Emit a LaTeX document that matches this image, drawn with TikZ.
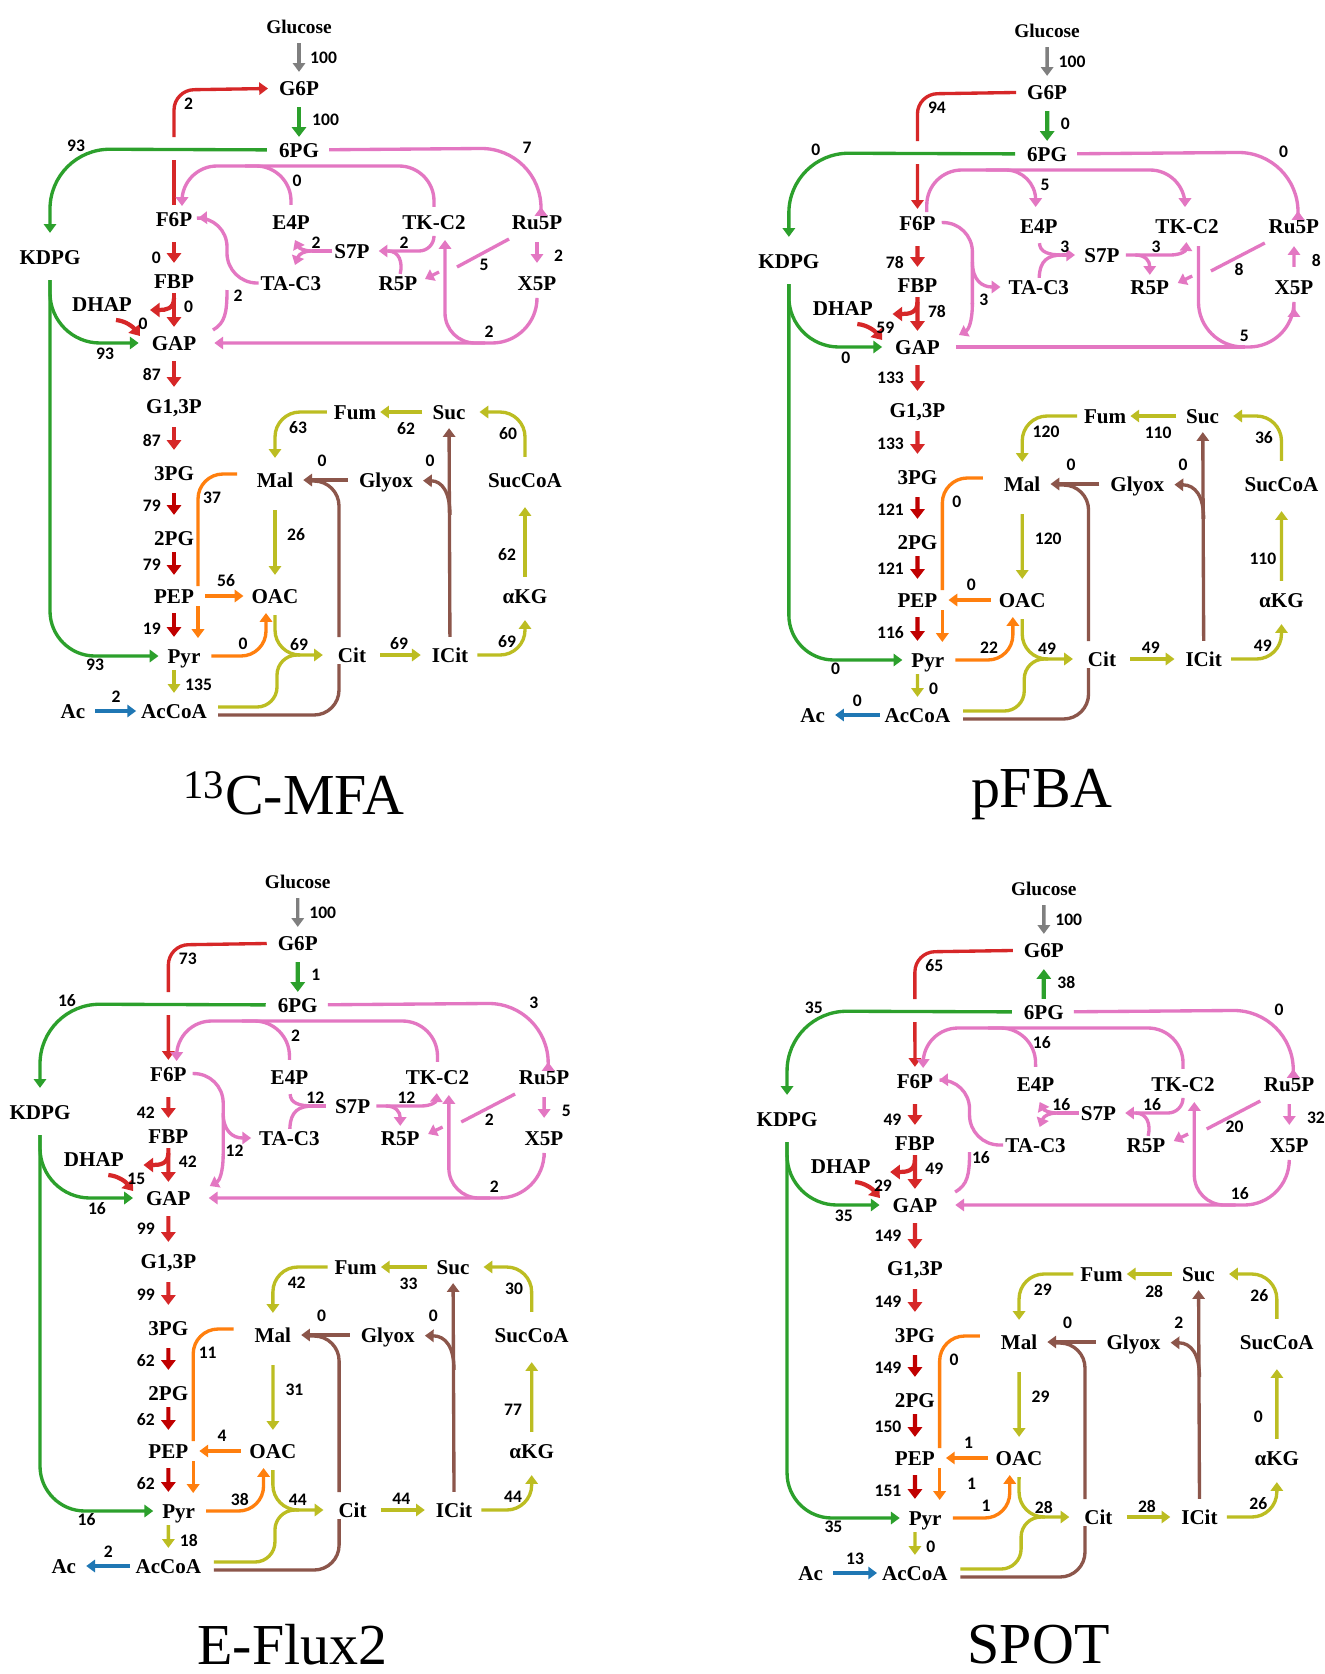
\documentclass[tikz,border=0pt]{standalone}
\usepackage{fontspec}
\setmainfont{Liberation Serif}
\newfontfamily\numfont{Carlito}
\usetikzlibrary{arrows.meta,calc}

\definecolor{fgray}{HTML}{7F7F7F}
\definecolor{fgreen}{HTML}{2CA02C}
\definecolor{fred}{HTML}{D62728}
\definecolor{fdred}{HTML}{C00000}
\definecolor{fpink}{HTML}{E377C2}
\definecolor{folive}{HTML}{BCBD22}
\definecolor{fbrown}{HTML}{8C564B}
\definecolor{forange}{HTML}{FF7F0E}
\definecolor{fblue}{HTML}{1F77B4}

\tikzset{
  met/.style={font=\bfseries\fontsize{12}{14}\selectfont,inner sep=1pt,text height=8pt,text depth=0pt},
  num/.style={font=\numfont\bfseries\fontsize{10}{12}\selectfont,inner sep=0.5pt},
  ttl/.style={font=\fontsize{33}{38}\selectfont,inner sep=0pt},
  ln/.style={line width=1.9pt},
  fw/.style={ln,-{Triangle[width=7pt,length=5pt]}},
  bw/.style={ln,{Triangle[width=7pt,length=5pt]}-},
  fat/.style={line width=2.4pt,-{Triangle[width=8pt,length=5.5pt]}},
  fatbw/.style={line width=2.4pt,{Triangle[width=8pt,length=5.5pt]}-},
}

% shared part of every map: #1 G6P/6PG, #2 PEP/OAC, #3 Ac/AcCoA
\newcommand{\mapcore}[3]{%
  % metabolites
  \node[met,font=\bfseries\fontsize{11}{13}\selectfont] (Glc) at (299,26) {Glucose};
  \node[met] (G6P) at (299,88) {G6P};
  \node[met] (PG6) at (299,150) {6PG};
  \node[met] (F6P) at (174,219) {F6P};
  \node[met] (E4P) at (291,222) {E4P};
  \node[met] (TK) at (434,222) {TK-C2};
  \node[met] (Ru5P) at (537,222) {Ru5P};
  \node[met] (KDPG) at (50,257) {KDPG};
  \node[met] (S7P) at (352,251) {S7P};
  \node[met] (TA) at (291,283) {TA-C3};
  \node[met] (R5P) at (398,283) {R5P};
  \node[met] (X5P) at (537,283) {X5P};
  \node[met] (FBP) at (174,281) {FBP};
  \node[met] (DHAP) at (102,304) {DHAP};
  \node[met] (GAP) at (174,343) {GAP};
  \node[met] (G13P) at (174,406) {G1,3P};
  \node[met] (PG3) at (174,473) {3PG};
  \node[met] (PG2) at (174,538) {2PG};
  \node[met] (PEP) at (174,596) {PEP};
  \node[met] (Pyr) at (184,656) {Pyr};
  \node[met] (AcCoA) at (174,711) {AcCoA};
  \node[met] (Ac) at (73,711) {Ac};
  \node[met] (Mal) at (275,480) {Mal};
  \node[met] (OAC) at (275,596) {OAC};
  \node[met] (Fum) at (355,412) {Fum};
  \node[met] (Suc) at (449,412) {Suc};
  \node[met] (Glyox) at (386,480) {Glyox};
  \node[met] (SucCoA) at (525,480) {SucCoA};
  \node[met] (aKG) at (525,596) {αKG};
  \node[met] (Cit) at (352,655) {Cit};
  \node[met] (ICit) at (450,655) {ICit};
  % uptake, ED
  \draw[fw,fgray,shorten <=0.16cm,shorten >=0.14cm] (Glc) -- (G6P);
  \draw[#1,fgreen,shorten <=0.2cm,shorten >=0.08cm] (G6P) -- (PG6);
  \draw[fw,fgreen,rounded corners=1.2cm,shorten <=0.2cm,shorten >=0.3cm] (PG6) -- (50,149) -- (KDPG);
  \draw[fw,fgreen,rounded corners=1cm,shorten <=0.28cm,shorten >=0.22cm] (KDPG) -- (50,343) -- (GAP);
  \draw[fw,fgreen,rounded corners=0.9cm,shorten <=0.28cm,shorten >=0.14cm] (KDPG) -- (50,656) -- (Pyr);
  % glycolysis
  \draw[fat,fred,shorten <=0.28cm,shorten >=0.18cm] (F6P) -- (FBP);
  \draw[fat,fred,shorten <=0.06cm,shorten >=0.14cm] (FBP) -- (GAP);
  \draw[fat,fred] (174,298) .. controls (174,309) and (166,310) .. (150,310);
  \draw[fat,fred] (116,320) .. controls (126,321) and (133,327) .. (140,336);
  \draw[fat,fred,shorten <=0.18cm,shorten >=0.2cm] (GAP) -- (G13P);
  \draw[fat,fred,shorten <=0.24cm,shorten >=0.28cm] (G13P) -- (PG3);
  \draw[fat,fdred,shorten <=0.22cm,shorten >=0.28cm] (PG3) -- (PG2);
  \draw[fat,fdred,shorten <=0.1cm,shorten >=0.24cm] (PG2) -- (PEP);
  \draw[fat,fdred,shorten <=0.16cm,shorten >=0.2cm] (PEP) -- (PEP |- Pyr.north);
  % anaplerosis
  \draw[ln,forange,rounded corners=0.5cm] (237,474) -- (198,474) -- (198,586);
  \draw[fw,forange] (198,606) -- (198,638);
  \draw[#2,forange,shorten <=0.18cm,shorten >=0.12cm] (PEP) -- (OAC);
  \draw[fw,forange,rounded corners=0.5cm,shorten <=0.18cm] (Pyr) -- (266,656) -- (266,613);
  % TCA cycle
  \draw[fw,folive,shorten <=0.42cm,shorten >=0.24cm] (Mal) -- (OAC);
  \draw[fw,folive,rounded corners=0.5cm,shorten <=0.2cm,shorten >=0.26cm] (OAC) -- (275,655) -- (Cit);
  \draw[ln,folive,rounded corners=0.4cm] (218,707) -- (277,707) -- (277,655) -- (300,655);
  \draw[fw,folive,shorten <=0.1cm,shorten >=0.18cm] (AcCoA |- Pyr.south) -- (AcCoA);
  \draw[#3,fblue,shorten <=0.16cm,shorten >=0.06cm] (Ac) -- (AcCoA);
  \draw[fw,folive,shorten <=0.24cm,shorten >=0.18cm] (Cit) -- (ICit);
  \draw[fw,folive,rounded corners=0.5cm,shorten <=0.14cm,shorten >=0.3cm] (ICit) -- (525,655) -- (aKG);
  \draw[fw,folive,shorten <=0.2cm,shorten >=0.36cm] (aKG) -- (SucCoA);
  \draw[fw,folive,rounded corners=0.5cm,shorten <=0.28cm,shorten >=0.24cm] (SucCoA) -- (525,412) -- (Suc);
  \draw[fw,folive,shorten <=0.16cm,shorten >=0.04cm] (Suc) -- (Fum);
  \draw[fw,folive,rounded corners=0.5cm,shorten <=0.1cm,shorten >=0.26cm] (Fum) -- (275,412) -- (Mal);
  % glyoxylate shunt
  \draw[fw,fbrown,shorten <=0.18cm,shorten >=0.16cm] (Glyox) -- (Mal);
  \draw[ln,fbrown,rounded corners=0.5cm] (218,715) -- (339,715) -- (339,664);
  \draw[ln,fbrown,rounded corners=0.5cm] (339,637) -- (339,481) -- (310,481);
  \draw[fw,fbrown,shorten <=0.18cm,shorten >=0.14cm] (ICit) -- (Suc);
  \draw[fw,fbrown,shorten >=0.16cm] (450,515) .. controls (450,492) and (442,481) .. (Glyox);
  % pentose phosphate, fixed part
  \draw[fw,fpink,rounded corners=1.2cm,shorten <=0.16cm] (PG6) -- (541,148) -- (541,207);
  \draw[ln,fpink] (509,239) -- (457,267);
  \draw[fw,fpink] (439,272) -- (425,279);
  % flux label spots
  \foreach \x/\y/\a [count=\i] in {309/58/west,311/120/west,183/104/west,76/146/center,
      527/148/center,297/181/center,162/258/east,183/307/west,143/324/center,105/354/center,
      238/296/center,316/243/center,404/243/center,484/265/center,553/256/west,489/332/center,
      162/374/east,162/440/east,162/506/east,162/565/east,162/629/east,212/498/center,
      226/581/center,243/644/center,184/685/west,116/697/center,95/665/center,286/535/west,
      299/645/center,399/644/center,507/642/center,507/555/center,508/434/center,406/429/center,
      298/428/center,322/461/center,430/461/center,229/622/center}{
    \coordinate (f\i) at (\x,\y);
    \expandafter\xdef\csname fa\i\endcsname{\a}
  }
}

\newcommand{\fluxlabels}[2]{%
  \foreach \v [count=\i] in {#2}{
    \edef\anc{\csname fa\i\endcsname}
    \node[num,anchor=\anc] (#1\i) at (f\i) {\v};
  }
}

% G6P / F6P
\newcommand{\gfUp}{%
  \draw[ln,fred,shorten <=0.1cm] (F6P) -- (174,160);
  \draw[fw,fred,rounded corners=0.4cm,shorten >=0.18cm] (174,137) -- (174,90) -- (G6P);
}
\newcommand{\gfDown}{%
  \draw[ln,fred,rounded corners=0.4cm,shorten <=0.18cm] (G6P) -- (174,90) -- (174,137);
  \draw[fw,fred,shorten >=0.1cm] (174,160) -- (F6P);
}
% E4P + TK-C2 -> F6P, and back
\newcommand{\pppA}{%
  \draw[fw,fpink,rounded corners=0.7cm,shorten <=0.12cm] (TK) -- (434,166) -- (182,166) -- (182,206);
  \draw[ln,fpink,rounded corners=0.7cm,shorten <=0.16cm] (E4P) -- (291,166) -- (245,166);
}
\newcommand{\pppAr}{%
  \draw[fw,fpink,rounded corners=0.7cm] (183,208) -- (183,166) -- (432,166) -- (432,203);
  \draw[fw,fpink,rounded corners=0.6cm] (240,166) -- (288,166) -- (288,203);
}
% TA-C3 + GAP -> F6P, and back
\newcommand{\pppB}{%
  \draw[fw,fpink,rounded corners=0.6cm,shorten >=0.08cm] (TA) -- (227,283) -- (227,217) -- (F6P);
  \draw[ln,fpink] (213,330) .. controls (225,323) and (227,313) .. (227,290);
}
\newcommand{\pppBr}{%
  \draw[ln,fpink,rounded corners=0.6cm,shorten <=0.08cm] (F6P) -- (227,218) -- (227,300);
  \draw[fw,fpink] (227,299) .. controls (227,318) and (223,326) .. (214,331);
  \draw[fw,fpink,shorten >=0.12cm] (227,258) .. controls (227,276) and (236,283) .. (TA);
}
% S7P -> E4P + TA-C3, and back
\newcommand{\pppC}{%
  \draw[ln,fpink] (S7P) -- (312,251);
  \draw[fw,fpink] (312,251) .. controls (304,251) and (299,248) .. (295,240);
  \draw[fw,fpink] (312,251) .. controls (304,251) and (299,254) .. (295,265);
}
\newcommand{\pppCr}[1]{%
  \draw[ln,fpink,shorten <=0.16cm] (E4P) .. controls (292,248) and (300,251) .. (314,251);
  \draw[ln,fpink] (TA) .. controls (292,256) and (300,251) .. (314,251);
  \draw[#1,fpink] (313,251) -- (326,251);
}
% TK-C2 + R5P -> S7P, and back
\newcommand{\pppD}{%
  \draw[fw,fpink,rounded corners=0.3cm,shorten <=0.12cm,shorten >=0.14cm] (TK) -- (434,251) -- (S7P);
  \draw[ln,fpink] (R5P) .. controls (403,262) and (399,251) .. (388,251);
}
\newcommand{\pppDr}{%
  \draw[fw,fpink,shorten <=0.08cm,shorten >=0.14cm] (S7P) -- (418,251) .. controls (429,251) and (433,246) .. (TK);
  \draw[fw,fpink,shorten >=0.06cm] (384,251) .. controls (394,251) and (398,257) .. (R5P);
}
% X5P -> GAP + TK-C2, and back
\newcommand{\pppE}{%
  \draw[fw,fpink,rounded corners=0.9cm,shorten <=0.2cm,shorten >=0.32cm] (X5P) -- (537,343) -- (GAP);
  \draw[fw,fpink,rounded corners=0.6cm] (485,343) -- (445,343) -- (445,240);
}
\newcommand{\pppEr}{%
  \draw[fw,fpink,rounded corners=0.9cm,shorten >=0.24cm] (445,242) -- (445,343) -- (537,343) -- (X5P);
  \draw[ln,fpink,shorten <=0.28cm] (GAP) -- (490,343);
}
\newcommand{\pppF}[1]{\draw[#1,fpink,shorten <=0.22cm,shorten >=0.22cm] (Ru5P) -- (X5P);}

\begin{document}
\begin{tikzpicture}[x=0.02cm,y=-0.02cm]
  \fill[white] (0,0) rectangle (1325,1674);
  \useasboundingbox (0,0) rectangle (1325,1674);

  % 13C-MFA
  \begin{scope}
    \mapcore{fat}{fw}{fw}
    \gfUp \pppA \pppB \pppC \pppD \pppE \pppF{fw}
    \fluxlabels{mfa}{100,100,2,93,7,0,0,0,0,93,2,2,2,5,2,2,87,87,79,79,19,37,56,0,135,2,93,26,69,69,69,62,60,62,63,0,0}
    \node[ttl] (tmfa) at (294,793) {\textsuperscript{13}C-MFA};
  \end{scope}

  % pFBA
  \begin{scope}[shift={(737,4)},xscale=1.037]
    \mapcore{fat}{bw}{bw}
    \gfDown \pppAr \pppBr \pppCr{fw} \pppDr \pppEr \pppF{bw}
    \fluxlabels{pfba}{100,0,94,0,0,5,78,78,59,0,3,3,3,8,8,5,133,133,121,121,116,0,0,22,0,0,0,120,49,49,49,110,36,110,120,0,0}
    \node[ttl] (tpfba) at (294,791) {pFBA};
  \end{scope}

  % E-Flux2
  \begin{scope}[shift={(-11.75,855)},xscale=1.035]
    \mapcore{fat}{bw}{bw}
    \gfDown \pppA \pppBr \pppCr{ln} \pppDr \pppE \pppF{fw}
    \fluxlabels{ef}{100,1,73,16,3,2,42,42,15,16,12,12,12,2,5,2,99,99,62,62,62,11,4,38,18,2,16,31,44,44,44,77,30,33,42,0,0}
    \node[ttl] (tef) at (294,790) {E-Flux2};
  \end{scope}

  % SPOT
  \begin{scope}[shift={(735.5,862)},xscale=1.031]
    \mapcore{fatbw}{bw}{fw}
    \gfDown \pppA \pppB \pppC \pppD \pppE \pppF{fw}
    \fluxlabels{spot}{100,38,65,35,0,16,49,49,29,35,16,16,16,20,32,16,149,149,149,150,151,0,1,1,0,13,35,29,28,28,26,0,26,28,29,0,2,1}
    \node[ttl] (tspot) at (294,783) {SPOT};
  \end{scope}
\end{tikzpicture}
\end{document}
